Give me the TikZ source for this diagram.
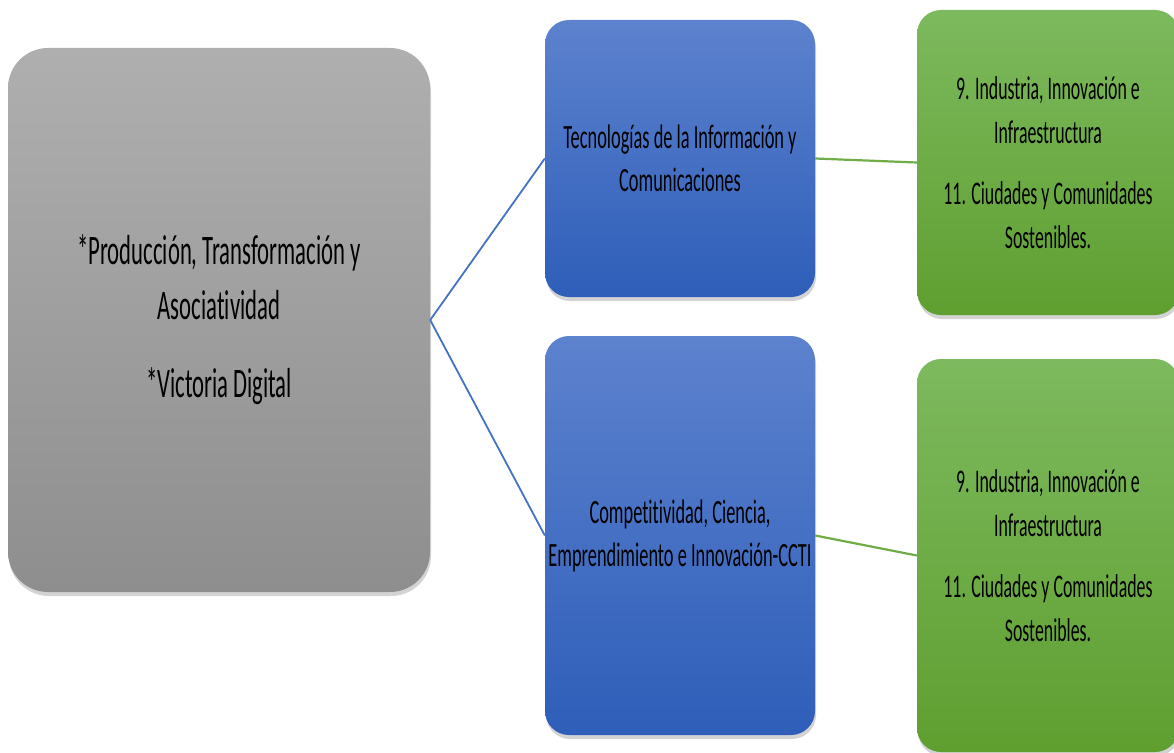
\documentclass[tikz,border=0pt]{standalone}
\usepackage{fontspec}
\setmainfont{Carlito}[FakeStretch=0.54, Ligatures=NoCommon]
\usetikzlibrary{shadows}
\definecolor{gtop}{HTML}{AFAFAF}
\definecolor{gbot}{HTML}{8E8E8E}
\definecolor{btop}{HTML}{5D82CE}
\definecolor{bbot}{HTML}{2E5EB9}
\definecolor{vtop}{HTML}{7DB95E}
\definecolor{vbot}{HTML}{5F9F30}
\definecolor{bline}{HTML}{4472C4}
\definecolor{vline}{HTML}{70AD47}
\tikzset{
  boxbase/.style={rectangle, inner sep=0pt, align=center, text=black,
    drop shadow={opacity=0.35, shadow xshift=1pt, shadow yshift=-4pt}},
  graybox/.style={boxbase, rounded corners=40pt, top color=gtop, bottom color=gbot,
    minimum width=422pt, minimum height=544pt, font=\fontsize{42}{55}\selectfont},
  bluebox/.style={boxbase, rounded corners=24pt, top color=btop, bottom color=bbot,
    minimum width=270pt, font=\fontsize{34}{43}\selectfont},
  greenbox/.style={boxbase, rounded corners=24pt, top color=vtop, bottom color=vbot,
    minimum width=262pt, font=\fontsize{33}{44}\selectfont},
  bconn/.style={draw=bline, line width=1.8pt},
  vconn/.style={draw=vline, line width=2.2pt}
}
\begin{document}
\begin{tikzpicture}[x=1pt,y=-1pt]
\useasboundingbox (0,0) rectangle (1174,752);
\clip (0,0) rectangle (1174,752);
\node[graybox] (g) at (219,320) {*Producción, Transformación y\\Asociatividad\\[23pt]*Victoria Digital};
\node[bluebox, minimum height=277pt] (b1) at (680,158.5) {Tecnologías de la Información y\\Comunicaciones};
\node[bluebox, minimum height=399pt] (b2) at (680,535.5) {Competitividad, Ciencia,\\Emprendimiento e Innovación-CCTI};
\node[greenbox, minimum height=305pt] (v1) at (1048,162.5) {9. Industria, Innovación e\\Infraestructura\\[17pt]11. Ciudades y Comunidades\\Sostenibles.};
\node[greenbox, minimum height=393pt] (v2) at (1048,555.5) {9. Industria, Innovación e\\Infraestructura\\[17pt]11. Ciudades y Comunidades\\Sostenibles.};
\path[bconn] (g.east) -- (b1.west);
\path[bconn] (g.east) -- (b2.west);
\path[vconn] (b1.east) -- (v1.west);
\path[vconn] (b2.east) -- (v2.west);
\end{tikzpicture}
\end{document}
